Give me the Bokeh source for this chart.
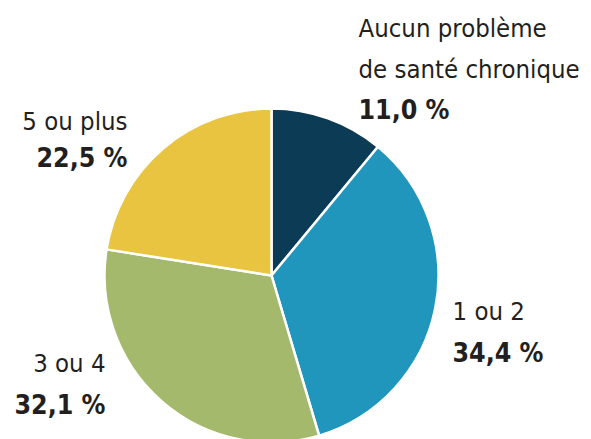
import math
from bokeh.plotting import figure
from bokeh.models import Range1d, ColumnDataSource
from bokeh.core.properties import value
from bokeh.embed import file_html
from bokeh.resources import INLINE

categories = ["Aucun problème de santé chronique", "1 ou 2", "3 ou 4", "5 ou plus"]
shares = [11.0, 34.4, 32.1, 22.5]
colors = ["#0C3B55", "#2196BD", "#A5B96C", "#E9C440"]
pct_labels = ["11,0 %", "34,4 %", "32,1 %", "22,5 %"]

W, H = 591, 439
p = figure(width=W, height=H, output_backend="svg", toolbar_location=None,
           x_range=Range1d(0, W), y_range=Range1d(0, H),
           min_border=0, outline_line_color=None)
p.axis.visible = False
p.grid.visible = False
p.background_fill_color = "white"
p.border_fill_color = "white"

total = sum(shares)
starts, ends = [], []
a = math.pi / 2
for s in shares:
    starts.append(a)
    a -= s / total * 2 * math.pi
    ends.append(a)

cx, cy, r = 271, H - 275, 167
src = ColumnDataSource(dict(start=starts, end=ends, color=colors))
p.wedge(x=cx, y=cy, radius=r, start_angle="start", end_angle="end",
        direction="clock", fill_color="color", line_color="white",
        line_width=2.5, source=src)

font = value("'DejaVu Sans Condensed', 'Roboto Condensed', Roboto, sans-serif")
ink = "#231F20"

def txt(x, y, t, align="left", bold=False):
    p.text(x=[x], y=[H - y], text=[t], text_font=font,
           text_font_size="26.5px" if bold else "25.5px",
           text_color=ink, text_align=align, text_baseline="alphabetic",
           text_font_style="bold" if bold else "normal")

# Aucun problème
txt(358, 27, "Aucun problème")
txt(358, 68, "de santé chronique")
txt(358, 109, pct_labels[0], bold=True)
# 1 ou 2
txt(452, 310, categories[1])
txt(452, 352, pct_labels[1], bold=True)
# 3 ou 4
txt(105, 362, categories[2], align="right")
txt(105, 404, pct_labels[2], align="right", bold=True)
# 5 ou plus
txt(127, 120, categories[3], align="right")
txt(127, 157, pct_labels[3], align="right", bold=True)

open("out.html", "w").write(file_html(p, INLINE))
